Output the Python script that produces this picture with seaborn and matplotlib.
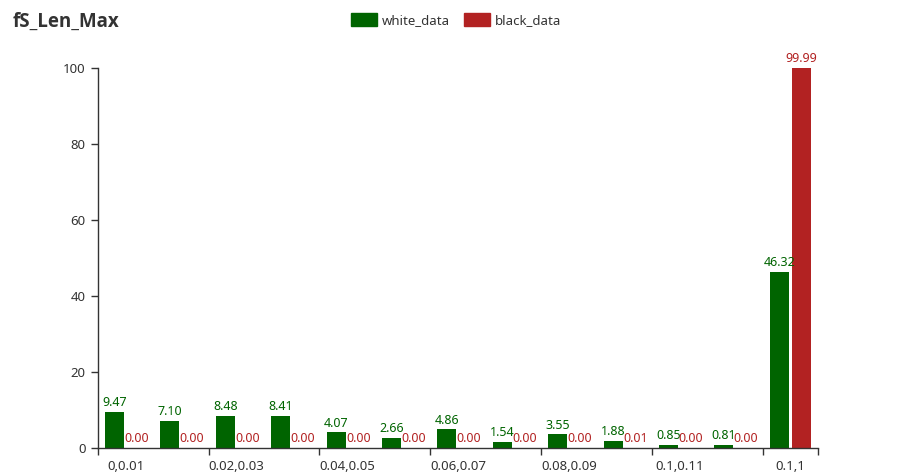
import matplotlib
matplotlib.use("Agg")
import matplotlib.pyplot as plt
import numpy as np
import pandas as pd
import seaborn as sns

categories = ["0,0.01", "0.01,0.02", "0.02,0.03", "0.03,0.04", "0.04,0.05",
              "0.05,0.06", "0.06,0.07", "0.07,0.08", "0.08,0.09", "0.09,0.1",
              "0.1,0.11", "0.11,0.12", "0.1,1"]
white_data = [9.47, 7.10, 8.48, 8.41, 4.07, 2.66, 4.86, 1.54, 3.55, 1.88, 0.85, 0.81, 46.32]
black_data = [0.00, 0.00, 0.00, 0.00, 0.00, 0.00, 0.00, 0.00, 0.00, 0.01, 0.00, 0.00, 99.99]
series_names = ["white_data", "black_data"]
colors = ["#006400", "#B22222"]
y_ticks = [0, 20, 40, 60, 80, 100]


def main():
    sns.set_theme()
    sns.set_style("white")
    plt.rcParams["font.family"] = ["Noto Sans", "DejaVu Sans"]

    df = pd.DataFrame({
        "category": categories * 2,
        "value": white_data + black_data,
        "series": [series_names[0]] * len(categories) + [series_names[1]] * len(categories),
    })

    fig = plt.figure(figsize=(8.98, 4.74), dpi=100)
    ax = fig.add_axes([0.109, 0.055, 0.802, 0.802])

    sns.barplot(data=df, x="category", y="value", hue="series", order=categories,
                hue_order=series_names, palette=colors, width=0.8, gap=0.14,
                saturation=1, legend=False, linewidth=0, ax=ax)

    for container, c in zip(ax.containers, colors):
        ax.bar_label(container, fmt="%.2f", padding=2, color=c, fontsize=9)

    ax.set_ylim(0, 100)
    ax.set_xlim(-0.5, len(categories) - 0.5)
    ax.set_yticks(y_ticks)
    ax.set_xticks(range(0, len(categories), 2))
    ax.set_xticklabels(categories[::2])
    ax.set_xticks(np.arange(-0.5, len(categories), 2).tolist() + [len(categories) - 0.5], minor=True)
    ax.tick_params(axis="x", which="major", length=0, pad=9, labelsize=9.5, labelcolor="#333333")
    ax.tick_params(axis="x", which="minor", length=5, width=1, color="#333333", bottom=True)
    ax.tick_params(axis="y", length=5, width=1, color="#333333", left=True, pad=4,
                   labelsize=9.5, labelcolor="#333333")
    ax.set_xlabel("")
    ax.set_ylabel("")
    sns.despine(ax=ax)
    for side in ["left", "bottom"]:
        ax.spines[side].set_color("#333333")
        ax.spines[side].set_linewidth(1)

    fig.text(0.0145, 0.953, "fS_Len_Max", fontsize=13.5, fontweight="bold",
             family=["Open Sans", "DejaVu Sans"], color="#333333", va="center", ha="left")

    handles = [matplotlib.patches.FancyBboxPatch((0, 0), 1, 1, boxstyle="round,pad=0,rounding_size=0.3",
                                                 facecolor=c, edgecolor=c) for c in colors]
    fig.legend(handles, series_names, loc="center", bbox_to_anchor=(0.508, 0.958), ncol=2,
               frameon=False, fontsize=9.5, handlelength=2.0, handleheight=1.1,
               handletextpad=0.4, columnspacing=1.0, labelcolor="#333333")

    fig.savefig("out.png", dpi=100)


if __name__ == "__main__":
    main()
